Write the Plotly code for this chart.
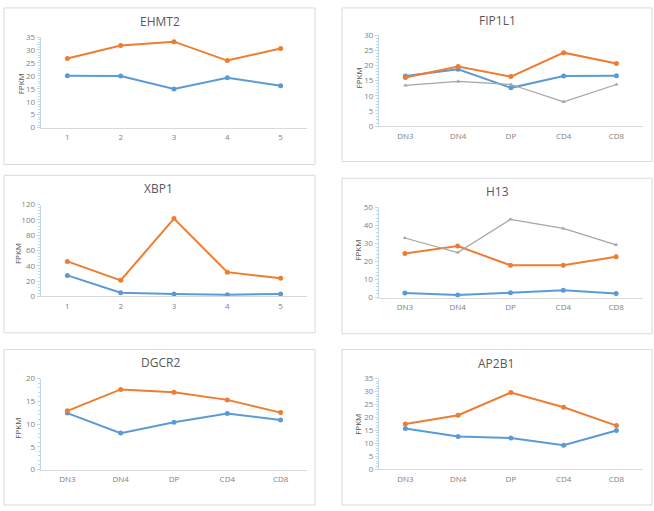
import plotly.graph_objects as go

W, H = 654, 511

num_cats = ["1", "2", "3", "4", "5"]
stage_cats = ["DN3", "DN4", "DP", "CD4", "CD8"]

ehmt2_blue = [20.0, 19.9, 14.9, 19.3, 16.2]
ehmt2_orange = [26.7, 31.7, 33.2, 25.9, 30.6]

fip1l1_blue = [16.5, 18.7, 12.6, 16.5, 16.6]
fip1l1_orange = [16.0, 19.6, 16.3, 24.2, 20.6]
fip1l1_gray = [13.4, 14.7, 13.7, 8.0, 13.7]

xbp1_blue = [27.4, 4.7, 3.0, 2.1, 3.0]
xbp1_orange = [45.7, 20.9, 101.7, 31.6, 23.5]

h13_blue = [2.5, 1.4, 2.7, 4.0, 2.2]
h13_orange = [24.4, 28.5, 17.9, 17.9, 22.6]
h13_gray = [33.0, 24.9, 43.3, 38.3, 29.2]

dgcr2_blue = [12.4, 8.0, 10.4, 12.3, 10.9]
dgcr2_orange = [12.9, 17.6, 17.0, 15.3, 12.5]

ap2b1_blue = [15.7, 12.6, 12.0, 9.2, 14.9]
ap2b1_orange = [17.4, 20.8, 29.6, 23.9, 16.8]

BLUE, ORANGE, GRAY = "#5b9bd5", "#ed7d31", "#a5a5a5"

# panel geometry in pixels: box, plot area (x0,x1,y_bottom,y_top), y max, dtick, title pos, ylabel pos
panels = [
    dict(name="EHMT2", cats=num_cats, series=[ehmt2_blue, ehmt2_orange], ymax=35, dtick=5,
         box=(4, 2, 315, 162), px=(40.7, 307.3), py=(124.3, 31.7), title=(159.5, 16), ylab=(20, 80)),
    dict(name="FIP1L1", cats=stage_cats, series=[fip1l1_blue, fip1l1_orange, fip1l1_gray], ymax=30, dtick=5,
         box=(342, 2, 652, 159), px=(379, 642.8), py=(122.7, 29.7), title=(497.5, 15), ylab=(358, 74)),
    dict(name="XBP1", cats=num_cats, series=[xbp1_blue, xbp1_orange], ymax=120, dtick=20,
         box=(4, 173, 315, 334), px=(40.7, 307.3), py=(296.7, 203), title=(158.5, 187), ylab=(17.5, 253)),
    dict(name="H13", cats=stage_cats, series=[h13_blue, h13_orange, h13_gray], ymax=50, dtick=10,
         box=(342, 176, 652, 335), px=(378.5, 642.5), py=(298, 205.7), title=(497.5, 190), ylab=(358, 250)),
    dict(name="DGCR2", cats=stage_cats, series=[dgcr2_blue, dgcr2_orange], ymax=20, dtick=5,
         box=(4, 351, 315, 510), px=(40.7, 307.3), py=(473.7, 380.7), title=(160, 364), ylab=(18, 432)),
    dict(name="AP2B1", cats=stage_cats, series=[ap2b1_blue, ap2b1_orange], ymax=35, dtick=5,
         box=(342, 351, 652, 510), px=(379, 642.8), py=(473.3, 380.7), title=(496.5, 365), ylab=(358, 428)),
]

colors = [BLUE, ORANGE, GRAY]
symbols = ["circle", "circle", "triangle-up"]
widths = [2, 2, 1.2]
sizes = [5, 5, 4]

fig = go.Figure()
layout = dict(width=W, height=H, margin=dict(l=0, r=0, t=0, b=0), showlegend=False,
              paper_bgcolor="white", plot_bgcolor="white", shapes=[], annotations=[])

def px2x(v):
    return v / W

def py2y(v):
    return 1 - v / H

for i, p in enumerate(panels):
    n = i + 1
    xa = "x" if n == 1 else f"x{n}"
    ya = "y" if n == 1 else f"y{n}"
    for k, s in enumerate(p["series"]):
        fig.add_trace(go.Scatter(
            x=p["cats"], y=s, xaxis=xa, yaxis=ya, mode="lines+markers",
            line=dict(color=colors[k], width=widths[k]),
            marker=dict(color=colors[k], size=sizes[k], symbol=symbols[k]),
            hoverinfo="x+y"))
    layout[f"xaxis{'' if n == 1 else n}"] = dict(
        domain=[px2x(p["px"][0]), px2x(p["px"][1])], anchor=ya,
        type="category", range=[-0.5, 4.5], showgrid=False, zeroline=False,
        showline=True, linecolor="#d9d9d9", linewidth=1, ticks="",
        tickfont=dict(family="Open Sans", size=8, color="#7f7f7f"), ticklabelstandoff=2,
        fixedrange=True)
    layout[f"yaxis{'' if n == 1 else n}"] = dict(
        domain=[py2y(p["py"][0]), py2y(p["py"][1])], anchor=xa,
        range=[0, p["ymax"]], dtick=p["dtick"], showgrid=False, zeroline=False,
        showline=True, linecolor="#bdd7ee", linewidth=1,
        ticks="outside", ticklen=3, tickcolor="#bdd7ee",
        minor=dict(ticks="outside", ticklen=2, tickcolor="#bdd7ee", dtick=p["dtick"] / 5),
        tickfont=dict(family="Open Sans", size=8, color="#7f7f7f"),
        fixedrange=True)
    x0, y0, x1, y1 = p["box"]
    layout["shapes"].append(dict(type="rect", xref="paper", yref="paper",
                                 x0=px2x(x0), x1=px2x(x1), y0=py2y(y1), y1=py2y(y0),
                                 line=dict(color="#d9d9d9", width=1), layer="below"))
    tx, ty = p["title"]
    layout["annotations"].append(dict(text=p["name"], xref="paper", yref="paper",
                                      x=px2x(tx), y=py2y(ty), xanchor="center", yanchor="middle",
                                      showarrow=False,
                                      font=dict(family="Open Sans", size=12, color="#595959")))
    lx, ly = p["ylab"]
    layout["annotations"].append(dict(text="FPKM", xref="paper", yref="paper",
                                      x=px2x(lx), y=py2y(ly), xanchor="center", yanchor="middle",
                                      textangle=-90, showarrow=False,
                                      font=dict(family="Open Sans", size=8, color="#595959")))

fig.update_layout(**layout)
fig.write_html("out.html")
